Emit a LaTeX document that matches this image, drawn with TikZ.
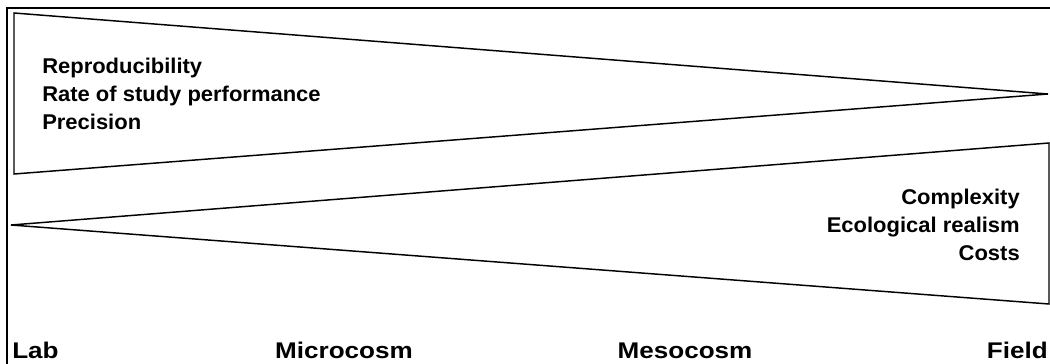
\documentclass[tikz,border=0pt]{standalone}
\usepackage{fontspec}
\setmainfont{Liberation Sans}
\usetikzlibrary{positioning, calc}

\tikzset{
  wedge/.style={line width=1.1pt, line join=miter},
  frameline/.style={line width=1.5pt},
  prop/.style={inner sep=0pt,
    font=\fontsize{16}{19}\selectfont\addfontfeatures{FakeStretch=1.03}\bfseries},
  scalelabel/.style={inner sep=0pt, anchor=base,
    font=\fontsize{17}{20}\selectfont\addfontfeatures{FakeStretch=1.15}\bfseries}
}

\begin{document}
\begin{tikzpicture}[x=0.75pt, y=-0.75pt]
\useasboundingbox (0,0) rectangle (1050,364);

% --- Cornice ---
\draw[frameline] (7,364) -- (7,8) -- (1050,8);

% --- Cuneo superiore (Lab -> Field) ---
\coordinate (uptl) at (14,13);
\coordinate (upbl) at (14,174);
\coordinate (uptip) at (1048,94);
\draw[wedge] (uptl) -- (uptip) -- (upbl) -- cycle;

% --- Cuneo inferiore (Field -> Lab) ---
\coordinate (lotip) at (11,225);
\coordinate (lotr) at (1049,143);
\coordinate (lobr) at (1049,304);
\draw[wedge] (lotip) -- (lotr) -- (lobr) -- cycle;

% --- Proprieta' ---
\foreach \i/\y/\txt in {1/73/Reproducibility, 2/101/Rate of study performance, 3/129/Precision}{
  \node[prop, anchor=base west] (up\i) at (42,\y) {\txt};
}
\foreach \i/\y/\txt in {1/204/Complexity, 2/232/Ecological realism, 3/260/Costs}{
  \node[prop, anchor=base east] (lo\i) at (1020,\y) {\txt};
}

% --- Scala ---
\node[scalelabel, anchor=base west] (lab) at (12,358) {Lab};
\node[scalelabel] (micro) at (344,358) {Microcosm};
\node[scalelabel] (meso) at (685,358) {Mesocosm};
\node[scalelabel, anchor=base east] (field) at (1048,358) {Field};

\end{tikzpicture}
\end{document}
